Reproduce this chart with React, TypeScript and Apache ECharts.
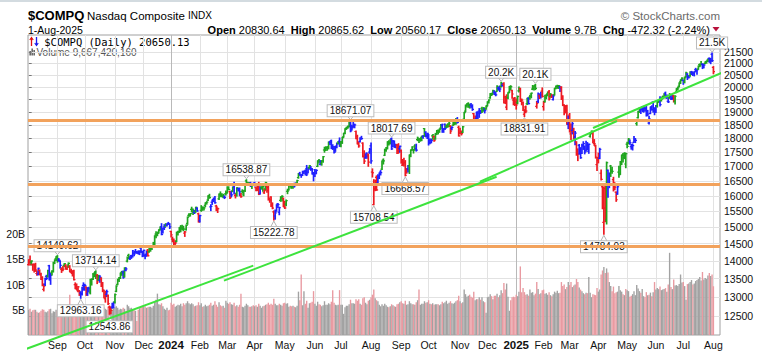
import React, { useEffect, useRef } from 'react';
import * as echarts from 'echarts';

// [open, high, low, close, volume in billions]
type Bar = [number, number, number, number, number];

const aug2023: Bar[] = [
  [13890,14030,13880,13960,5.0],[14030,14140,13880,13909,5.2],[13960,14000,13880,13994,4.6],[13890,13905,13730,13884,4.9],
  [13900,13910,13680,13722,5.0],[13830,13930,13700,13738,5.0],[13640,13710,13590,13645,4.6],[13620,13790,13600,13788,4.4],
  [13730,13740,13610,13631,4.5],[13600,13650,13470,13475,4.8],[13520,13550,13300,13317,5.1],[13200,13350,13160,13291,5.0],
  [13340,13510,13310,13498,4.6],[13560,13590,13470,13506,4.5],[13560,13730,13540,13721,4.7],[13860,13870,13460,13464,5.1],
  [13530,13640,13340,13591,5.2],[13670,13720,13600,13705,4.3],[13700,13960,13680,13944,4.7],[13950,14030,13920,14019,4.6],
  [14060,14120,14010,14035,5.0],
];
const sep2023: Bar[] = [
  [14130,14149.62,13960,14032,4.8],[14020,14065,13990,14021,5.3],[13990,14000,13790,13872,5.2],[13760,13800,13670,13749,5.2],
  [13730,13840,13720,13762,4.8],[13870,13920,13830,13918,4.9],[13850,13890,13760,13774,4.8],[13780,13850,13750,13814,5.1],
  [13880,13940,13820,13926,5.3],[13850,13860,13690,13708,8.0],[13680,13760,13660,13710,4.7],[13640,13700,13570,13678,4.8],
  [13720,13730,13460,13469,5.1],[13330,13380,13220,13224,5.5],[13250,13350,13200,13212,5.2],[13170,13280,13140,13271,4.6],
  [13160,13170,13040,13064,5.0],[13100,13140,12963.16,13093,5.3],[13070,13260,13050,13201,5.0],[13310,13380,13180,13219,5.2],
];
const oct2023: Bar[] = [
  [13220,13340,13180,13308,5.1],[13260,13270,13040,13059,5.4],[13080,13250,13040,13236,5.0],[13220,13260,13140,13220,4.8],
  [13110,13480,13080,13431,5.0],[13340,13490,13320,13484,4.4],[13480,13640,13470,13563,4.9],[13610,13670,13550,13660,5.0],
  [13690,13714.14,13500,13574,5.2],[13590,13610,13360,13407,5.0],[13460,13590,13450,13568,4.7],[13450,13580,13400,13534,4.9],
  [13490,13520,13280,13314,5.0],[13360,13390,13140,13186,5.4],[13160,13180,12980,12984,5.5],[12950,13150,12860,13018,5.2],
  [13070,13180,13010,13140,5.0],[13030,13050,12800,12821,5.6],[12730,12750,12543.86,12596,5.9],[12700,12730,12560,12643,5.4],
  [12730,12830,12700,12789,5.0],[12780,12860,12710,12851,5.3],
];
const nov2023: Bar[] = [
  [12870,13080,12840,13061,5.5],[13150,13300,13140,13294,5.7],[13340,13480,13330,13478,5.4],[13460,13530,13420,13519,5.0],
  [13520,13650,13500,13640,5.2],[13670,13700,13590,13650,5.1],[13680,13710,13510,13521,5.4],[13560,13800,13540,13798,5.2],
  [13730,13800,13720,13768,4.7],[13990,14110,13970,14094,6.0],[14160,14190,14060,14104,5.7],[14060,14120,14040,14114,5.3],
  [14150,14160,14070,14125,5.4],[14120,14300,14110,14285,5.1],[14220,14240,14150,14200,4.9],[14270,14330,14230,14266,4.8],
  [14240,14270,14220,14251,2.8],[14220,14290,14200,14241,5.0],[14210,14290,14180,14282,5.3],[14370,14420,14240,14258,5.5],
  [14270,14280,14120,14226,5.8],
];
const dec2023: Bar[] = [
  [14180,14310,14130,14305,5.6],[14150,14190,14060,14185,5.7],[14150,14280,14130,14230,5.4],[14310,14330,14140,14147,5.5],
  [14260,14370,14250,14340,5.6],[14300,14440,14280,14404,5.6],[14360,14440,14330,14432,5.4],[14400,14540,14390,14533,5.8],
  [14520,14740,14450,14734,6.5],[14790,14860,14680,14762,7.0],[14760,14840,14740,14814,8.2],[14850,14920,14820,14905,6.1],
  [14930,15010,14920,15003,6.0],[15010,15110,14770,14778,6.3],[14870,14970,14820,14964,5.7],[15010,15080,14930,14993,5.2],
  [15030,15110,15030,15075,5.0],[15060,15110,15040,15099,5.4],[15120,15150,15090,15095,4.9],[15100,15110,14960,15011,5.0],
];
const jan2024: Bar[] = [
  [14870,14880,14700,14766,6.4],[14640,14700,14560,14592,6.0],[14560,14640,14480,14510,6.2],[14500,14590,14480,14524,5.6],
  [14570,14850,14560,14844,5.8],[14780,14880,14760,14858,6.0],[14860,14990,14840,14970,5.9],[15000,15050,14860,14970,6.2],
  [15000,15060,14920,14973,5.7],[14930,15030,14890,14944,6.3],[14820,14870,14720,14856,6.0],[14940,15070,14910,15056,6.3],
  [15120,15320,15090,15311,6.7],[15370,15420,15340,15360,6.3],[15390,15430,15350,15426,6.1],[15560,15630,15480,15482,6.3],
  [15560,15570,15400,15511,6.1],[15460,15530,15430,15455,5.7],[15480,15630,15470,15628,5.8],[15590,15610,15500,15510,5.9],
  [15420,15440,15160,15164,6.5],
];
const feb2024: Bar[] = [
  [15200,15370,15160,15362,5.9],[15530,15680,15500,15629,6.3],[15610,15640,15530,15598,5.6],[15620,15640,15540,15609,5.7],
  [15690,15770,15650,15757,6.0],[15770,15810,15730,15794,5.7],[15860,16000,15850,15991,5.8],[16000,16050,15920,15943,6.0],
  [15640,15710,15520,15656,6.4],[15790,15860,15720,15859,5.8],[15880,15930,15810,15906,6.0],[15890,15980,15760,15776,6.7],
  [15670,15690,15520,15631,6.0],[15570,15600,15460,15581,5.6],[15900,16060,15880,16042,6.5],[16060,16130,15970,15997,5.9],
  [16020,16070,15970,15976,5.7],[16000,16050,15940,16035,5.8],[15960,16000,15910,15948,5.4],[16070,16160,16030,16092,6.8],
];
const mar2024: Bar[] = [
  [16110,16300,16090,16275,6.4],[16240,16300,16200,16208,6.2],[16140,16150,15910,15940,6.5],[16060,16150,15970,16032,6.1],
  [16160,16290,16140,16273,6.0],[16320,16450,16060,16085,6.4],[16010,16060,15930,16019,5.7],[16080,16270,15990,16266,5.9],
  [16240,16250,16160,16178,5.6],[16220,16260,16000,16129,6.0],[16010,16080,15950,15973,8.2],[16150,16200,16090,16103,5.6],
  [16030,16170,16000,16167,5.5],[16180,16370,16140,16369,5.8],[16500,16538.87,16380,16402,6.2],[16410,16450,16390,16429,5.9],
  [16360,16440,16360,16384,5.6],[16420,16450,16310,16316,5.6],[16360,16405,16240,16400,5.7],[16390,16420,16350,16379,5.9],
];
const apr2024: Bar[] = [
  [16420,16450,16330,16397,5.7],[16270,16290,16170,16240,5.9],[16180,16320,16170,16277,5.6],[16400,16450,16040,16049,6.2],
  [16080,16300,16060,16249,5.8],[16270,16300,16220,16254,5.4],[16300,16320,16150,16307,5.7],[16100,16220,16080,16170,5.8],
  [16250,16450,16200,16442,6.0],[16320,16340,16120,16175,6.1],[16280,16330,15860,15885,6.4],[15880,15930,15790,15865,6.0],
  [15960,15970,15650,15683,6.2],[15700,15770,15580,15602,6.0],[15480,15510,15222.78,15282,7.2],[15350,15540,15250,15451,6.2],
  [15510,15710,15500,15697,5.9],[15740,15750,15620,15713,5.9],[15470,15630,15390,15612,6.2],[15850,15970,15820,15928,6.0],
  [15970,16000,15830,15983,5.8],[15910,15930,15650,15658,6.3],
];
const may2024: Bar[] = [
  [15640,15820,15590,15605,6.4],[15730,15860,15680,15841,6.2],[16150,16220,16070,16156,6.3],[16200,16350,16190,16349,5.6],
  [16350,16390,16300,16333,5.8],[16260,16330,16250,16303,5.7],[16300,16350,16250,16346,5.8],[16390,16420,16290,16341,5.6],
  [16410,16430,16340,16388,5.5],[16420,16520,16400,16511,5.8],[16610,16750,16590,16742,8.6],[16760,16790,16690,16698,6.9],
  [16700,16710,16620,16686,12.0],[16690,16830,16680,16795,5.9],[16780,16840,16750,16833,8.7],[16820,16870,16700,16802,6.2],
  [16910,17030,16680,16736,6.8],[16800,16950,16780,16921,5.4],[16950,17030,16920,17020,6.3],[16900,16990,16860,16921,6.4],
  [16900,16920,16730,16737,6.6],[16760,16790,16500,16735,8.7],
];
const jun2024: Bar[] = [
  [16880,16890,16650,16829,6.2],[16760,16880,16740,16857,5.8],[17000,17190,16990,17188,6.6],[17200,17240,17120,17173,6.1],
  [17070,17200,17050,17133,6.0],[17100,17200,17040,17193,5.7],[17200,17350,17140,17344,5.9],[17580,17680,17500,17608,6.7],
  [17650,17700,17560,17668,6.0],[17640,17700,17570,17689,6.0],[17650,17870,17620,17862,6.3],[17870,17890,17780,17862,6.1],
  [17920,17940,17630,17722,6.6],[17700,17770,17600,17689,8.9],[17630,17710,17470,17497,6.4],[17560,17720,17530,17718,6.0],
  [17680,17830,17660,17805,5.9],[17830,17890,17800,17859,6.0],[17900,18020,17710,17733,8.9],
];
const jul2024: Bar[] = [
  [17780,17890,17700,17879,6.0],[17840,18040,17820,18029,6.0],[18060,18190,18050,18188,4.2],[18200,18360,18180,18353,5.5],
  [18380,18420,18340,18404,5.8],[18420,18460,18380,18429,5.8],[18460,18650,18440,18647,6.1],[18670,18671.07,18250,18283,7.0],
  [18340,18500,18320,18398,6.3],[18440,18600,18420,18473,6.3],[18520,18540,18400,18509,6.2],[18260,18280,17990,17997,7.1],
  [18080,18120,17800,17871,6.8],[17800,17860,17680,17727,7.1],[17890,18030,17870,18008,6.2],[18000,18080,17970,17997,6.0],
  [17830,17840,17330,17342,7.3],[17360,17550,17100,17182,7.5],[17300,17440,17280,17358,6.4],[17470,17470,17280,17370,6.1],
  [17400,17440,17000,17147,6.8],[17500,17640,17460,17599,7.0],
];
const aug2024: Bar[] = [
  [17730,17830,17110,17194,7.5],[16800,16910,16630,16776,8.0],[15710,16540,15708.54,16200,9.0],[16250,16520,16170,16367,7.3],
  [16620,16670,16180,16196,6.9],[16430,16710,16360,16660,6.7],[16600,16770,16580,16745,6.0],[16800,16850,16700,16781,5.7],
  [16900,17190,16890,17188,6.1],[17220,17260,17080,17193,5.8],[17390,17610,17380,17595,6.2],[17560,17670,17530,17632,5.9],
  [17660,17880,17620,17877,5.6],[17880,17920,17760,17817,5.5],[17860,17960,17800,17919,5.7],[17990,18017.69,17600,17619,6.1],
  [17720,17930,17700,17878,5.9],[17900,17910,17680,17726,5.7],[17680,17790,17660,17755,5.6],[17760,17780,17450,17556,6.1],
  [17660,17810,17460,17516,6.2],[17630,17720,17500,17714,6.5],
];
const sep2024: Bar[] = [
  [17560,17580,17110,17136,6.7],[17040,17240,17030,17084,6.3],[17090,17280,17010,17128,6.2],[17140,17200,16668.57,16691,6.8],
  [16830,16920,16760,16885,6.0],[16910,17030,16800,17026,6.1],[17010,17400,16750,17396,6.7],[17400,17580,17340,17570,6.3],
  [17590,17700,17590,17684,6.1],[17580,17610,17470,17592,6.1],[17720,17770,17570,17628,6.0],[17630,17790,17540,17573,6.5],
  [17960,18050,17920,18014,6.9],[17940,17990,17850,17948,9.0],[17980,18000,17900,17974,6.0],[18040,18090,17920,18075,6.2],
  [18070,18110,18010,18082,6.2],[18370,18370,18080,18190,6.7],[18230,18250,18060,18120,6.4],[18080,18190,18000,18189,6.5],
];
const oct2024: Bar[] = [
  [18140,18150,17760,17910,6.9],[17850,17980,17810,17925,6.2],[17850,17980,17840,17918,6.1],[18100,18140,17970,18138,6.3],
  [18070,18090,17900,17924,6.0],[17990,18190,17970,18183,6.1],[18170,18300,18150,18292,6.1],[18230,18320,18170,18282,6.1],
  [18240,18360,18230,18343,5.9],[18390,18520,18370,18503,6.1],[18500,18540,18230,18316,6.6],[18320,18370,18230,18367,6.3],
  [18530,18540,18340,18374,6.5],[18430,18510,18410,18490,6.8],[18450,18550,18420,18540,6.2],[18460,18610,18450,18573,6.4],
  [18470,18480,18190,18277,6.7],[18380,18440,18330,18415,6.3],[18500,18690,18490,18519,6.2],[18650,18650,18530,18567,6.4],
  [18570,18750,18530,18713,6.7],[18690,18790,18580,18608,6.9],[18420,18460,18090,18095,7.8],
];
const nov2024: Bar[] = [
  [18200,18380,18180,18240,6.7],[18230,18280,18130,18180,6.3],[18230,18450,18220,18439,6.5],[18730,18990,18700,18983,9.0],
  [19040,19280,19020,19269,8.1],[19270,19330,19200,19287,7.6],[19340,19370,19190,19299,7.8],[19280,19320,19160,19281,8.0],
  [19270,19340,19170,19231,7.6],[19250,19290,19070,19108,7.4],[18940,18950,18650,18680,8.6],[18690,18850,18670,18792,6.9],
  [18760,19000,18690,18987,7.1],[19000,19010,18740,18966,7.1],[19040,19140,18800,19017,7.5],[18990,19080,18950,19004,7.0],
  [19150,19190,18990,19055,7.5],[19080,19180,19040,19174,6.7],[19140,19140,18970,19060,6.5],[19120,19240,19110,19218,4.4],
];
const dec2024: Bar[] = [
  [19260,19410,19250,19404,7.5],[19390,19490,19360,19481,7.6],[19570,19740,19550,19735,8.1],[19730,19750,19660,19700,7.7],
  [19750,19870,19720,19860,7.1],[19800,19850,19700,19737,7.8],[19790,19800,19650,19687,7.8],[19830,20060,19830,20035,8.2],
  [19970,19990,19880,19903,7.5],[20000,20050,19820,19927,7.9],[20020,20204.58,20010,20174,8.9],[20080,20150,20040,20109,8.3],
  [20120,20180,19360,19393,10.3],[19600,19630,19340,19373,9.0],[19200,19690,19100,19573,10.2],[19580,19770,19530,19765,7.6],
  [19800,20030,19780,20031,4.8],[19950,20060,19900,20020,6.9],[19860,19870,19550,19722,7.5],[19480,19560,19290,19487,7.6],
  [19550,19580,19260,19311,7.5],
];
const jan2025: Bar[] = [
  [19400,19520,19120,19281,8.0],[19370,19640,19330,19622,7.7],[19850,20010,19800,19865,8.6],[19940,19960,19420,19490,13.6],
  [19470,19520,19290,19479,8.5],[19370,19400,19070,19162,9.3],[18920,19100,18831.91,19088,8.5],[19210,19240,18980,19044,8.0],
  [19330,19550,19300,19511,8.1],[19560,19570,19320,19338,7.8],[19600,19660,19510,19630,9.0],[19720,19760,19570,19757,8.4],
  [19920,20070,19900,20009,8.5],[19940,20060,19890,20054,7.9],[20080,20118.61,19900,19954,8.2],[19230,19420,19160,19342,10.5],
  [19430,19760,19380,19734,9.1],[19650,19700,19540,19632,8.1],[19700,19790,19560,19682,8.3],[19840,19970,19600,19627,8.9],
];
const feb2025: Bar[] = [
  [19220,19430,19080,19392,9.0],[19420,19670,19400,19654,8.2],[19580,19700,19530,19692,8.3],[19730,19800,19650,19792,8.0],
  [19810,19860,19480,19523,8.5],[19620,19740,19590,19714,7.9],[19620,19700,19580,19644,7.7],[19500,19680,19480,19650,8.1],
  [19690,19950,19680,19946,8.6],[19960,20050,19940,20027,8.4],[20040,20080,19960,20041,8.8],[19970,20070,19950,20056,8.3],
  [20010,20030,19820,19962,8.4],[19990,20020,19500,19524,10.5],[19630,19650,19260,19287,9.7],[19260,19290,18900,19026,10.0],
  [19130,19260,18970,19075,9.1],[19230,19270,18530,18544,9.5],[18530,18850,18370,18847,10.5],
];
const mar2025: Bar[] = [
  [18890,18950,18240,18350,9.9],[18170,18540,17960,18285,10.5],[18300,18600,18170,18553,9.5],[18260,18380,17980,18069,9.8],
  [18050,18260,17770,18196,10.0],[17870,17880,17390,17468,11.1],[17440,17620,17200,17436,10.5],[17750,17780,17430,17648,9.4],
  [17620,17660,17280,17303,9.0],[17460,17790,17450,17754,8.7],[17730,17880,17600,17809,8.3],[17710,17720,17440,17504,8.1],
  [17560,17900,17530,17751,8.4],[17610,17850,17580,17692,8.3],[17530,17800,17460,17784,11.5],[18080,18210,18050,18189,8.4],
  [18220,18280,18170,18272,7.5],[18220,18240,17850,17899,8.1],[17820,17960,17750,17804,8.0],[17730,17750,17290,17323,7.9],
  [17060,17310,16850,17299,9.3],
];
const apr2025: Bar[] = [
  [17210,17470,17120,17450,8.6],[17280,17640,17270,17601,9.0],[16760,16870,16530,16551,12.0],[16300,16340,15580,15588,12.8],
  [15150,16290,14784.03,15603,13.5],[16240,16330,15170,15268,12.3],[15220,17150,15100,17125,13.2],[16860,16870,15950,16387,12.4],
  [16370,16770,16270,16724,10.5],[17010,17030,16650,16831,9.7],[16870,16970,16760,16823,8.7],[16540,16620,16160,16307,9.6],
  [16430,16430,16200,16286,8.3],[16120,16130,15820,15871,8.5],[16060,16340,16050,16300,8.6],[16800,17000,16620,16708,9.7],
  [16730,17170,16720,17166,8.9],[17140,17390,17060,17383,8.6],[17410,17450,17150,17366,8.1],[17300,17480,17270,17461,7.9],
  [17080,17460,16950,17446,9.1],
];
const may2025: Bar[] = [
  [17790,17860,17660,17711,8.9],[17840,18000,17800,17978,8.7],[17880,17940,17790,17844,7.6],[17700,17780,17610,17690,7.8],
  [17760,17800,17580,17738,8.1],[17860,18070,17850,17928,8.7],[17990,18000,17850,17929,7.9],[18560,18720,18500,18708,9.9],
  [18790,19040,18770,19010,9.2],[19020,19170,18990,19147,8.7],[19050,19120,18950,19112,8.4],[19130,19220,19050,19211,9.1],
  [19030,19230,19000,19215,7.7],[19150,19190,19040,19143,7.5],[19080,19230,18850,18873,8.5],[18880,19070,18860,18926,7.9],
  [18580,18840,18540,18737,8.0],[18950,19200,18940,19199,8.4],[19210,19250,19080,19101,7.7],[19400,19400,19000,19176,8.5],
  [19120,19150,18900,19114,10.5],
];
const jun2025: Bar[] = [
  [19050,19260,18990,19243,9.0],[19250,19410,19200,19399,9.3],[19410,19480,19400,19460,9.1],[19490,19610,19240,19298,9.6],
  [19460,19560,19440,19530,8.9],[19600,19640,19530,19591,9.0],[19610,19730,19570,19715,9.1],[19760,19800,19580,19616,9.3],
  [19560,19680,19550,19662,8.6],[19430,19580,19380,19407,10.0],[19560,19740,19550,19701,16.3],[19640,19680,19500,19521,9.5],
  [19550,19680,19510,19546,9.1],[19640,19660,19400,19447,11.0],[19420,19650,19320,19631,9.8],[19800,19940,19780,19913,9.9],
  [19950,20000,19890,19974,9.7],[20040,20180,20020,20168,10.1],[20220,20300,20150,20273,12.0],[20320,20390,20290,20370,10.4],
];
const jul2025: Bar[] = [
  [20290,20300,20120,20203,10.5],[20210,20400,20180,20393,9.7],[20440,20620,20420,20601,7.0],[20550,20560,20320,20413,10.1],
  [20430,20480,20380,20418,10.2],[20480,20650,20460,20611,10.5],[20620,20660,20530,20631,10.9],[20530,20620,20490,20586,10.0],
  [20560,20650,20470,20640,10.2],[20730,20790,20660,20678,10.7],[20700,20750,20540,20730,10.9],[20760,20890,20750,20886,11.1],
  [20950,20980,20860,20896,11.5],[20940,21080,20940,20974,10.8],[20970,20980,20780,20893,12.5],[20960,20970,20810,20931,11.0],
  [21000,21070,20990,21058,11.3],[21080,21110,21010,21108,11.1],[21150,21190,21080,21179,11.8],[21220,21240,21050,21098,12.3],
  [21140,21220,20990,21130,11.7],[21400,21457.48,21080,21122.45,12.0],
];
const aug2025: Bar[] = [
  [20830.64,20865.62,20560.17,20650.13,9.66742016],
];

const months: { name: string; year: number; bars: Bar[] }[] = [
  { name: 'Aug', year: 2023, bars: aug2023 }, { name: 'Sep', year: 2023, bars: sep2023 },
  { name: 'Oct', year: 2023, bars: oct2023 }, { name: 'Nov', year: 2023, bars: nov2023 },
  { name: 'Dec', year: 2023, bars: dec2023 }, { name: 'Jan', year: 2024, bars: jan2024 },
  { name: 'Feb', year: 2024, bars: feb2024 }, { name: 'Mar', year: 2024, bars: mar2024 },
  { name: 'Apr', year: 2024, bars: apr2024 }, { name: 'May', year: 2024, bars: may2024 },
  { name: 'Jun', year: 2024, bars: jun2024 }, { name: 'Jul', year: 2024, bars: jul2024 },
  { name: 'Aug', year: 2024, bars: aug2024 }, { name: 'Sep', year: 2024, bars: sep2024 },
  { name: 'Oct', year: 2024, bars: oct2024 }, { name: 'Nov', year: 2024, bars: nov2024 },
  { name: 'Dec', year: 2024, bars: dec2024 }, { name: 'Jan', year: 2025, bars: jan2025 },
  { name: 'Feb', year: 2025, bars: feb2025 }, { name: 'Mar', year: 2025, bars: mar2025 },
  { name: 'Apr', year: 2025, bars: apr2025 }, { name: 'May', year: 2025, bars: may2025 },
  { name: 'Jun', year: 2025, bars: jun2025 }, { name: 'Jul', year: 2025, bars: jul2025 },
  { name: 'Aug', year: 2025, bars: aug2025 },
];

const priceTicks = [12500, 13000, 13500, 14000, 14500, 15000, 15500, 16000, 16500, 17000, 17500, 18000, 18500, 19000, 19500, 20000, 20500, 21000, 21500];
const resistanceLevels = [18671.07, 16400, 14440];
const peakValues = [14149.62, 13714.14, 16538.87, 18671.07, 18017.69, 20204.58, 20118.61, 21457.48];
const troughValues = [12963.16, 12543.86, 15222.78, 15708.54, 16668.57, 18831.91, 14784.03];
// user-drawn trend segments: [[dayIndex, price], [dayIndex, price]]
const trendSegments: [number, number][][] = [
  [[-7.8, 11610], [164.0, 13861]],
  [[142.6, 13440], [341.7, 16641]],
  [[329.5, 16471], [429.6, 18657]],
  [[412.1, 18393], [512.1, 20750]],
];
const symbol = '$COMPQ';
const symbolName = 'Nasdaq Composite';
const lastDate = '1-Aug-2025';

const FONT = '"Liberation Sans", Arial, sans-serif';
const IMPULSE = ['#1fa51f', '#2020ff', '#ee1a22'];

function ema(vals: number[], n: number): number[] {
  const k = 2 / (n + 1);
  const out: number[] = [];
  vals.forEach((v, i) => out.push(i === 0 ? v : v * k + out[i - 1] * (1 - k)));
  return out;
}

export default function App() {
  const ref = useRef<HTMLDivElement>(null);
  useEffect(() => {
    if (!ref.current) return;
    const chart = echarts.init(ref.current, undefined, { renderer: 'svg' });

    const bars: Bar[] = [];
    const monthStarts: number[] = [];
    const monthLabels: string[] = [];
    const yearStarts: number[] = [];
    months.forEach((m, k) => {
      if (k > 0) {
        monthStarts.push(bars.length);
        monthLabels.push(m.name === 'Jan' ? String(m.year) : m.name);
        if (m.name === 'Jan') yearStarts.push(bars.length);
      }
      m.bars.forEach((b) => bars.push(b));
    });
    const closes = bars.map((b) => b[3]);
    const e13 = ema(closes, 13);
    const e12 = ema(closes, 12);
    const e26 = ema(closes, 26);
    const macd = e12.map((v, i) => v - e26[i]);
    const sig = ema(macd, 9);
    const hist = macd.map((v, i) => v - sig[i]);
    const impulse = closes.map((_, i) => {
      if (i === 0) return 2;
      const up = e13[i] > e13[i - 1];
      const hu = hist[i] > hist[i - 1];
      if (up && hu) return 0;
      if (!up && !hu) return 2;
      return 1;
    });
    const priceData = bars.map((b, i) => [i, b[0], b[1], b[2], b[3], impulse[i]]);
    const volData = bars.map((b, i) => [i, b[4], i > 0 && b[3] < bars[i - 1][3] ? 1 : 0]);
    const annData: number[][] = [];
    peakValues.forEach((v) => { const i = bars.findIndex((b) => b[1] === v); if (i >= 0) annData.push([i, v, 1]); });
    troughValues.forEach((v) => { const i = bars.findIndex((b) => b[2] === v); if (i >= 0) annData.push([i, v, -1]); });

    const last = bars[bars.length - 1];
    const prev = bars[bars.length - 2];
    const chg = last[3] - prev[3];
    const pct = (chg / prev[3]) * 100;
    const lastVolFull = Math.round(last[4] * 1e9);

    const option: any = {
      animation: false,
      backgroundColor: '#ffffff',
      textStyle: { fontFamily: FONT },
      grid: { left: 28, right: 42, top: 35, bottom: 21, show: true, borderColor: '#a0a0a0', borderWidth: 1, backgroundColor: '#fff' },
      xAxis: {
        type: 'value', min: -0.5, max: 504.8,
        axisLine: { show: false },
        axisTick: { show: false, customValues: monthStarts },
        axisLabel: {
          customValues: monthStarts, margin: 4, color: '#111', fontSize: 10.5, fontFamily: FONT,
          formatter: (v: number) => {
            const k = monthStarts.indexOf(Math.round(v));
            if (k < 0) return '';
            const t = monthLabels[k];
            return /^\d+$/.test(t) ? '{y|' + t + '}' : t;
          },
          rich: { y: { fontWeight: 'bold', fontSize: 11.5, fontFamily: FONT, color: '#111' } },
        },
        splitLine: { show: true, lineStyle: { color: '#e2e2e2', width: 1 } },
      },
      yAxis: [
        {
          type: 'log', logBase: 10, min: 12021, max: 22264, position: 'right',
          axisLine: { show: false },
          axisTick: { show: true, length: 3, customValues: priceTicks, lineStyle: { color: '#777' } },
          axisLabel: { customValues: priceTicks, formatter: (v: number) => String(Math.round(v)), margin: 4, fontSize: 10.5, color: '#111', fontFamily: FONT },
          splitLine: { show: true, lineStyle: { color: '#e2e2e2', width: 1 } },
        },
        {
          type: 'value', min: 0, max: 59.5, interval: 5, position: 'left',
          axisLine: { show: false }, axisTick: { show: false }, splitLine: { show: false },
          axisLabel: { formatter: (v: number) => (v > 0 && v <= 20 ? v + 'B' : ''), margin: 3, fontSize: 10.5, color: '#111', fontFamily: FONT },
        },
      ],
      series: [
        {
          type: 'line', data: [], silent: true, z: 0,
          markLine: {
            silent: true, symbol: ['none', 'none'], z: 0.5, animation: false, label: { show: false },
            lineStyle: { color: '#b9b9b9', width: 1, type: 'solid' },
            data: yearStarts.map((i) => ({ xAxis: i })),
          },
        },
        {
          type: 'custom', name: 'Volume', xAxisIndex: 0, yAxisIndex: 1, silent: true, z: 1,
          data: volData, encode: { x: 0, y: 1 },
          renderItem: (params: any, api: any) => {
            const i = api.value(0);
            const v = api.value(1);
            const p1 = api.coord([i - 0.5, v]);
            const p0 = api.coord([i + 0.5, 0]);
            return {
              type: 'rect',
              shape: { x: p1[0], y: p1[1], width: p0[0] - p1[0], height: p0[1] - p1[1] },
              style: { fill: api.value(2) === 1 ? '#e99aa1' : '#a2a2a2' },
            };
          },
        },
        {
          type: 'custom', name: symbol, xAxisIndex: 0, yAxisIndex: 0, silent: true, z: 2,
          data: priceData, encode: { x: 0, y: [1, 2, 3, 4] },
          renderItem: (params: any, api: any) => {
            const x = api.value(0);
            const o = api.coord([x, api.value(1)]);
            const h = api.coord([x, api.value(2)]);
            const l = api.coord([x, api.value(3)]);
            const c = api.coord([x, api.value(4)]);
            const color = IMPULSE[api.value(5)];
            const px = h[0];
            return {
              type: 'group',
              children: [
                { type: 'line', shape: { x1: px, y1: h[1] - 0.5, x2: px, y2: l[1] + 0.5 }, style: { stroke: color, lineWidth: 1.7 } },
                { type: 'line', shape: { x1: px - 1.6, y1: o[1], x2: px, y2: o[1] }, style: { stroke: color, lineWidth: 1.2 } },
                { type: 'line', shape: { x1: px, y1: c[1], x2: px + 1.6, y2: c[1] }, style: { stroke: color, lineWidth: 1.2 } },
              ],
            };
          },
        },
        {
          type: 'custom', name: 'Annotations', xAxisIndex: 0, yAxisIndex: 0, silent: true, z: 3,
          data: annData, encode: { x: 0, y: 1 },
          renderItem: (params: any, api: any) => {
            const i = api.value(0);
            const v = api.value(1);
            const dir = api.value(2);
            const pt = api.coord([i, v]);
            const text = v >= 20000 ? (v / 1000).toFixed(1) + 'K' : v.toFixed(2);
            const cy = dir > 0 ? pt[1] - 10 : pt[1] + 12.5;
            const base = dir > 0 ? cy + 5 : cy - 5;
            const tip = dir > 0 ? pt[1] - 1 : pt[1] + 1;
            return {
              type: 'group',
              children: [
                { type: 'polygon', shape: { points: [[pt[0] - 3.5, base], [pt[0], tip], [pt[0] + 3.5, base]] }, style: { fill: '#fff', stroke: '#b5b5b5', lineWidth: 1 } },
                {
                  type: 'text', x: pt[0], y: cy,
                  style: {
                    text, align: 'center', verticalAlign: 'middle', font: '10px ' + FONT, fill: '#111',
                    backgroundColor: '#fff', borderColor: '#bcbcbc', borderWidth: 1, padding: [1, 2, 0, 2],
                  },
                },
              ],
            };
          },
        },
        {
          type: 'line', data: [], silent: true, z: 4,
          markLine: {
            silent: true, symbol: ['none', 'none'], z: 5, animation: false, label: { show: false },
            lineStyle: { color: '#f2a25c', width: 3, type: 'solid' },
            data: resistanceLevels.map((v) => ({ yAxis: v })),
          },
        },
        ...trendSegments.map((seg) => ({
          type: 'line', data: seg, clip: false, symbol: 'none', silent: true, z: 6,
          lineStyle: { color: '#3de33d', width: 2 },
        })),
      ],
      graphic: [
        { type: 'rect', shape: { x: 0, y: 0, width: 762, height: 2 }, style: { fill: '#d3dbe0' }, silent: true },
        { type: 'text', x: 28, y: 15.5, style: { text: symbol, font: 'bold 13px ' + FONT, fill: '#000', verticalAlign: 'middle' } },
        {
          type: 'text', x: 87, y: 15.5,
          style: {
            text: '{a|' + symbolName + '} {b|INDX}', verticalAlign: 'middle', font: '11.5px ' + FONT, fill: '#000',
            rich: { a: { font: '11.5px ' + FONT, fill: '#000' }, b: { font: '10px ' + FONT, fill: '#000' } },
          },
        },
        { type: 'text', x: 720, y: 15.5, style: { text: '\u00a9 StockCharts.com', align: 'right', verticalAlign: 'middle', font: '11.5px ' + FONT, fill: '#6a6a6a' } },
        { type: 'text', x: 28, y: 29.5, style: { text: lastDate, verticalAlign: 'middle', font: '10.5px ' + FONT, fill: '#000' } },
        {
          type: 'text', x: 710, y: 29.5,
          style: {
            text:
              '{b|Open} ' + last[0].toFixed(2) + '  {b|High} ' + last[1].toFixed(2) + '  {b|Low} ' + last[2].toFixed(2) +
              '  {b|Close} ' + last[3].toFixed(2) + '  {b|Volume} ' + last[4].toFixed(1) + 'B  {b|Chg} ' +
              chg.toFixed(2) + ' (' + pct.toFixed(2) + '%)',
            align: 'right', verticalAlign: 'middle', font: '11px ' + FONT, fill: '#000',
            rich: { b: { font: 'bold 11px ' + FONT, fill: '#000' } },
          },
        },
        { type: 'polygon', shape: { points: [[712.5, 27], [719.5, 27], [716, 31.5]] }, style: { fill: '#b8123c' }, silent: true },
        { type: 'polyline', shape: { points: [[31.5, 46], [31.5, 38]] }, style: { stroke: '#e01010', lineWidth: 1.3 } },
        { type: 'polyline', shape: { points: [[29.8, 40], [31.5, 37.5], [33.2, 40]] }, style: { stroke: '#e01010', fill: 'none', lineWidth: 1.2 } },
        { type: 'polyline', shape: { points: [[36.5, 37], [36.5, 45]] }, style: { stroke: '#1a1aee', lineWidth: 1.3 } },
        { type: 'polyline', shape: { points: [[34.8, 43], [36.5, 45.5], [38.2, 43]] }, style: { stroke: '#1a1aee', fill: 'none', lineWidth: 1.2 } },
        {
          type: 'text', x: 44.3, y: 41.5,
          style: { text: symbol + ' (Daily) ' + last[3].toFixed(2), verticalAlign: 'middle', font: '10.5px "DejaVu Sans Mono", monospace', fill: '#000' },
        },
        { type: 'rect', shape: { x: 29.5, y: 51, width: 1.3, height: 4.5 }, style: { fill: '#444' } },
        { type: 'rect', shape: { x: 31.5, y: 48.5, width: 1.3, height: 7 }, style: { fill: '#444' } },
        { type: 'rect', shape: { x: 33.5, y: 50, width: 1.3, height: 5.5 }, style: { fill: '#444' } },
        {
          type: 'text', x: 36.5, y: 52.3,
          style: { text: 'Volume ' + lastVolFull.toLocaleString('en-US'), verticalAlign: 'middle', font: '10px ' + FONT, fill: '#555' },
        },
      ],
    };
    chart.setOption(option);
    return () => chart.dispose();
  }, []);
  return <div ref={ref} style={{ position: 'fixed', left: 0, top: 0, width: 762, height: 356 }} />;
}
